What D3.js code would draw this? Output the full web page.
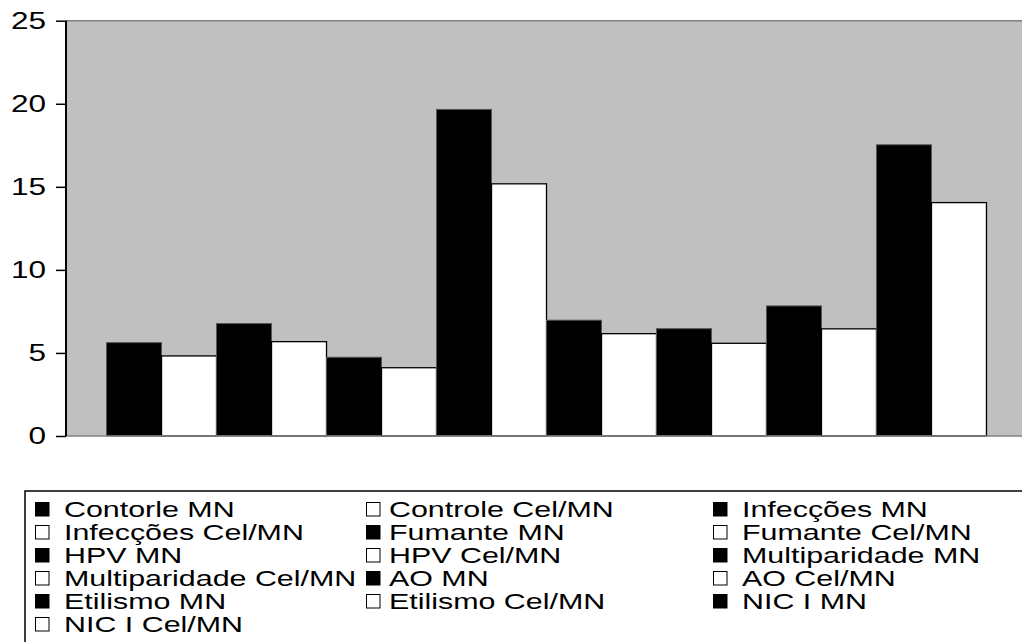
<!DOCTYPE html>
<html>
<head>
<meta charset="utf-8">
<script src="https://cdn.jsdelivr.net/npm/d3@7/dist/d3.min.js"></script>
<style>
  html, body { margin: 0; padding: 0; background: #fff; overflow: hidden; }
  svg { display: block; }
  text { font-family: "Liberation Sans", Arial, sans-serif; fill: #000; }
</style>
</head>
<body>
<svg id="chart" width="1022" height="642"></svg>
<script>
// ---- data ----
const seriesNames = [
  "Contorle MN", "Controle Cel/MN", "Infecções MN", "Infecções Cel/MN",
  "Fumante MN", "Fumante Cel/MN", "HPV MN", "HPV Cel/MN",
  "Multiparidade MN", "Multiparidade Cel/MN", "AO MN", "AO Cel/MN",
  "Etilismo MN", "Etilismo Cel/MN", "NIC I MN", "NIC I Cel/MN"
];
const seriesValues = [5.62, 4.82, 6.77, 5.68, 4.74, 4.11, 19.66, 15.18,
                      6.97, 6.16, 6.46, 5.58, 7.83, 6.45, 17.53, 14.05];
const seriesFill = ["#000", "#fff", "#000", "#fff", "#000", "#fff", "#000", "#fff",
                    "#000", "#fff", "#000", "#fff", "#000", "#fff", "#000", "#fff"];
const yTicks = [0, 5, 10, 15, 20, 25];

// ---- layout ----
const svg = d3.select("#chart");
const plot = { left: 66, right: 1027, top: 20.7, bottom: 436 };
const stretch = 1.37;      // horizontal stretch of the original picture's text
const fontSize = 22.2;

const y = d3.scaleLinear().domain([0, 25]).range([plot.bottom, plot.top]);
const x = d3.scaleBand().domain(d3.range(seriesNames.length))
  .range([plot.left, plot.right]).paddingInner(0).paddingOuter(0.737);

// plot area
svg.append("rect")
  .attr("x", plot.left).attr("y", plot.top)
  .attr("width", plot.right - plot.left).attr("height", plot.bottom - plot.top)
  .attr("fill", "#c0c0c0");
svg.append("line")
  .attr("x1", plot.left).attr("x2", plot.right)
  .attr("y1", plot.top).attr("y2", plot.top)
  .attr("stroke", "#808080").attr("stroke-width", 1.5);

// bars
svg.append("g").selectAll("rect").data(seriesValues).join("rect")
  .attr("x", (d, i) => x(i))
  .attr("y", d => y(d))
  .attr("width", x.bandwidth())
  .attr("height", d => y(0) - y(d))
  .attr("fill", (d, i) => seriesFill[i])
  .attr("stroke", (d, i) => seriesFill[i] === "#000" ? "#555" : "#000")
  .attr("stroke-width", (d, i) => seriesFill[i] === "#000" ? 1 : 1.3);

// bottom axis line
svg.append("line")
  .attr("x1", plot.left).attr("x2", plot.right)
  .attr("y1", plot.bottom).attr("y2", plot.bottom)
  .attr("stroke", "#808080").attr("stroke-width", 1.5);

// y axis
const yAxis = d3.axisLeft(y).tickValues(yTicks).tickSize(10).tickPadding(0).tickFormat(d3.format("d"));
const gy = svg.append("g").attr("transform", `translate(${plot.left},0)`).call(yAxis);
gy.select(".domain").attr("stroke", "#000").attr("stroke-width", 2)
  .attr("d", `M0,${plot.top}V${plot.bottom}`);
gy.selectAll(".tick line").attr("stroke", "#000").attr("stroke-width", 1.5);
gy.selectAll(".tick text").each(function() {
  const t = d3.select(this);
  t.attr("x", null).attr("dy", null)
   .attr("font-size", 23)
   .attr("font-family", "'Liberation Sans', Arial, sans-serif")
   .attr("text-anchor", "end")
   .attr("dominant-baseline", "central")
   .attr("transform", `translate(-20,0) scale(${stretch},1)`);
});

// legend
const legend = svg.append("g");
legend.append("rect")
  .attr("x", 25).attr("y", 491).attr("width", 1100).attr("height", 300)
  .attr("fill", "none").attr("stroke", "#000").attr("stroke-width", 1.5);
const colMarkerX = [35, 366, 713];
const colTextX = [64, 389, 742];
const rowBase0 = 517, rowStep = 23;
const items = legend.selectAll("g.item").data(seriesNames).join("g").attr("class", "item");
items.append("rect")
  .attr("x", (d, i) => colMarkerX[i % 3] + 0.5)
  .attr("y", (d, i) => rowBase0 + Math.floor(i / 3) * rowStep - 14.5)
  .attr("width", 13.5).attr("height", 13.5)
  .attr("fill", (d, i) => seriesFill[i])
  .attr("stroke", "#000").attr("stroke-width", 1);
items.append("text")
  .attr("font-size", fontSize)
  .attr("transform", (d, i) => `translate(${colTextX[i % 3]},${rowBase0 + Math.floor(i / 3) * rowStep}) scale(${stretch},1)`)
  .text(d => d);
</script>
</body>
</html>
